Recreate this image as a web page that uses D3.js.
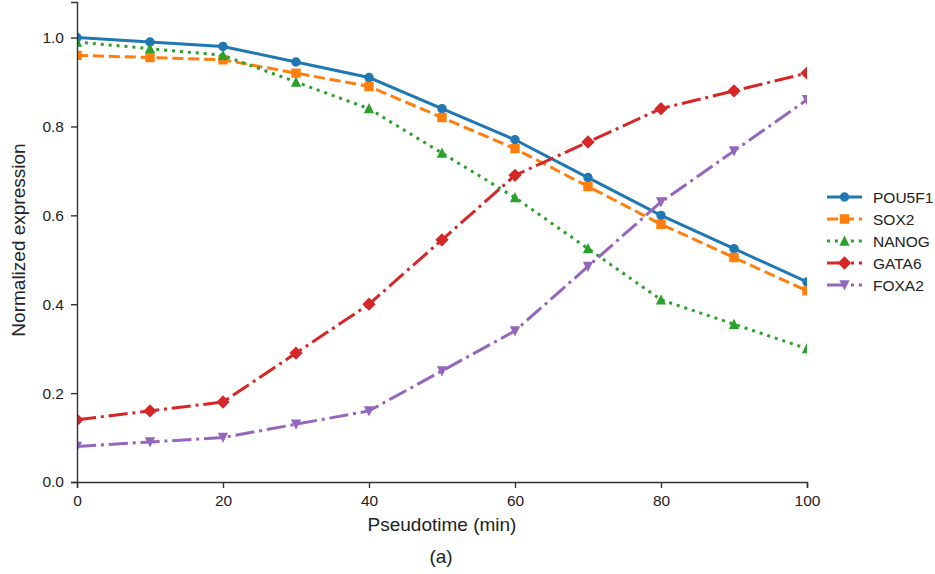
<!DOCTYPE html>
<html>
<head>
<meta charset="utf-8">
<script src="https://cdn.jsdelivr.net/npm/d3@7"></script>
<style>
  body { margin: 0; background: #fff; }
  text { font-family: "Liberation Sans", Arial, sans-serif; }
</style>
</head>
<body>
<div id="chart"></div>
<script>
// data
const pseudotime = [0, 10, 20, 30, 40, 50, 60, 70, 80, 90, 100];
const pou5f1 = [1.0, 0.99, 0.98, 0.945, 0.91, 0.84, 0.77, 0.685, 0.60, 0.525, 0.45];
const sox2   = [0.96, 0.955, 0.95, 0.92, 0.89, 0.82, 0.75, 0.665, 0.58, 0.505, 0.43];
const nanog  = [0.99, 0.975, 0.96, 0.90, 0.84, 0.74, 0.64, 0.525, 0.41, 0.355, 0.30];
const gata6  = [0.14, 0.16, 0.18, 0.29, 0.40, 0.545, 0.69, 0.765, 0.84, 0.88, 0.92];
const foxa2  = [0.08, 0.09, 0.10, 0.13, 0.16, 0.25, 0.34, 0.485, 0.63, 0.745, 0.86];
const geneNames = ["POU5F1", "SOX2", "NANOG", "GATA6", "FOXA2"];
const xTicks = [0, 20, 40, 60, 80, 100];
const yTicks = [0, 0.2, 0.4, 0.6, 0.8, 1.0];

const width = 935, height = 574;
const margin = { top: 2, right: 128, bottom: 92, left: 77 };
const innerW = width - margin.left - margin.right;
const innerH = height - margin.top - margin.bottom;

// matplotlib-like marker shapes; "size" here is the marker width in px
const mplMarker = {
  circle: { draw(ctx, s) { const r = s / 2; ctx.moveTo(r, 0); ctx.arc(0, 0, r, 0, 2 * Math.PI); } },
  square: { draw(ctx, s) { const h = s / 2; ctx.rect(-h, -h, s, s); } },
  triUp: { draw(ctx, s) { const h = s / 2; ctx.moveTo(0, -h); ctx.lineTo(h, h); ctx.lineTo(-h, h); ctx.closePath(); } },
  triDown: { draw(ctx, s) { const h = s / 2; ctx.moveTo(0, h); ctx.lineTo(h, -h); ctx.lineTo(-h, -h); ctx.closePath(); } },
  diamond: { draw(ctx, s) { const h = s * 0.707; ctx.moveTo(0, -h); ctx.lineTo(h, 0); ctx.lineTo(0, h); ctx.lineTo(-h, 0); ctx.closePath(); } }
};

const lw = 3;
const series = [
  { name: geneNames[0], values: pou5f1, color: "#1f77b4", dash: null, marker: mplMarker.circle, size: 8 },
  { name: geneNames[1], values: sox2, color: "#ff7f0e", dash: [3.7, 1.6].map(v => v * lw).join(","), marker: mplMarker.square, size: 8 },
  { name: geneNames[2], values: nanog, color: "#2ca02c", dash: [1, 1.65].map(v => v * lw).join(","), marker: mplMarker.triUp, size: 8 },
  { name: geneNames[3], values: gata6, color: "#d62728", dash: [6.4, 1.6, 1, 1.6].map(v => v * lw).join(","), marker: mplMarker.diamond, size: 8 },
  { name: geneNames[4], values: foxa2, color: "#9467bd", dash: [6.4, 1.6, 1, 1.6].map(v => v * lw).join(","), marker: mplMarker.triDown, size: 8 }
];

const svg = d3.select("#chart").append("svg")
  .attr("width", width)
  .attr("height", height);

svg.append("defs").append("clipPath")
  .attr("id", "plot-clip")
  .append("rect")
  .attr("width", innerW)
  .attr("height", innerH);

const bounds = svg.append("g")
  .attr("transform", `translate(${margin.left},${margin.top})`);

const x = d3.scaleLinear().domain([0, 100]).range([0, innerW]);
const y = d3.scaleLinear().domain([0, 1.08]).range([innerH, 0]);

const line = d3.line()
  .x((d, i) => x(pseudotime[i]))
  .y(d => y(d));

const plot = bounds.append("g").attr("clip-path", "url(#plot-clip)");

series.forEach(s => {
  plot.append("path")
    .datum(s.values)
    .attr("d", line)
    .attr("fill", "none")
    .attr("stroke", s.color)
    .attr("stroke-width", lw)
    .attr("stroke-dasharray", s.dash);

  plot.selectAll(null)
    .data(s.values)
    .join("path")
      .attr("d", d3.symbol().type(s.marker).size(s.size))
      .attr("transform", (d, i) => `translate(${x(pseudotime[i])},${y(d)})`)
      .attr("fill", s.color)
      .attr("stroke", s.color)
      .attr("stroke-width", 1.4)
      .attr("stroke-linejoin", "miter");
});

// axes
const xAxis = bounds.append("g")
  .attr("transform", `translate(0,${innerH})`)
  .call(d3.axisBottom(x).tickValues(xTicks).tickFormat(d3.format("d")).tickSize(6).tickPadding(7));
const yAxis = bounds.append("g")
  .call(d3.axisLeft(y).tickValues(yTicks).tickFormat(d3.format(".1f")).tickSize(6).tickPadding(7));

[xAxis, yAxis].forEach(a => {
  a.select(".domain").attr("stroke", "#333").attr("stroke-width", 1.4);
  a.selectAll(".tick line").attr("stroke", "#333").attr("stroke-width", 1.4);
  a.selectAll(".tick text").attr("fill", "#222").style("font-size", "15.5px")
    .style("font-family", "'Liberation Sans', Arial, sans-serif");
});

// axis labels
svg.append("text")
  .attr("x", margin.left + innerW / 2)
  .attr("y", 531)
  .attr("text-anchor", "middle")
  .attr("fill", "#222")
  .style("font-size", "19px")
  .text("Pseudotime (min)");

svg.append("text")
  .attr("transform", "translate(25,240) rotate(-90)")
  .attr("text-anchor", "middle")
  .attr("fill", "#222")
  .style("font-size", "19px")
  .text("Normalized expression");

svg.append("text")
  .attr("x", 441)
  .attr("y", 563)
  .attr("text-anchor", "middle")
  .attr("fill", "#222")
  .style("font-size", "19px")
  .text("(a)");

// legend
const legend = svg.append("g").attr("transform", "translate(827,197)");
series.forEach((s, i) => {
  const row = legend.append("g").attr("transform", `translate(0,${i * 22})`);
  row.append("line")
    .attr("x1", 0).attr("x2", 35)
    .attr("stroke", s.color)
    .attr("stroke-width", lw)
    .attr("stroke-dasharray", s.dash);
  row.append("path")
    .attr("d", d3.symbol().type(s.marker).size(s.size))
    .attr("transform", "translate(17.5,0)")
    .attr("fill", s.color)
    .attr("stroke", s.color)
    .attr("stroke-width", 1.4);
  row.append("text")
    .attr("x", 46)
    .attr("y", 5.5)
    .attr("fill", "#222")
    .style("font-size", "15.5px")
    .text(s.name);
});
</script>
</body>
</html>
